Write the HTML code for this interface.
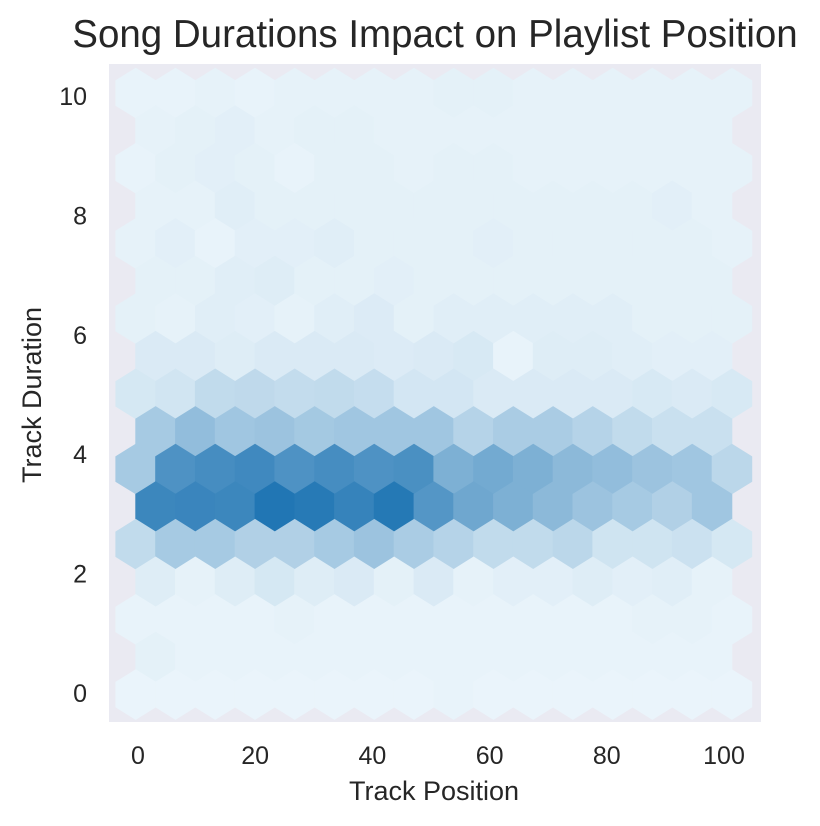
<!DOCTYPE html>
<html><head><meta charset="utf-8"><style>
html,body{margin:0;padding:0;background:#fff;}
svg{display:block;font-family:"Liberation Sans",sans-serif;}
</style></head><body>
<svg id="chart" width="820" height="826" viewBox="0 0 820 826">
<text x="435" y="47" font-size="38.5" text-anchor="middle" fill="#262626">Song Durations Impact on Playlist Position</text>
<rect x="109" y="64" width="652" height="658" fill="#eaeaf2"/>
<g id="hexes"></g>
<g id="xticks"></g>
<g id="yticks"></g>
<text x="434" y="800" font-size="27" text-anchor="middle" fill="#262626">Track Position</text>
<text x="0" y="0" font-size="27" text-anchor="middle" fill="#262626" transform="translate(41,395) rotate(-90)">Track Duration</text>
</svg>
<script>
const xTicks=[0,20,40,60,80,100];
const yTicks=[0,2,4,6,8,10];
const colStart=-0.39, colStep=6.783;
const rowStart=10.05, rowStep=0.6298;
const r0=[.03,.03,.04,.03,.04,.04,.04,.04,.05,.05,.04,.04,.04,.04,.04,.04];
const r1=[.04,.05,.06,.04,.05,.05,.04,.04,.04,.04,.04,.04,.04,.04,.04];
const r2=[.03,.05,.06,.05,.03,.05,.05,.04,.05,.05,.04,.04,.04,.04,.04,.04];
const r3=[.04,.04,.07,.05,.05,.05,.05,.05,.05,.05,.05,.05,.05,.06,.04];
const r4=[.04,.06,.03,.06,.06,.07,.05,.05,.05,.06,.05,.05,.05,.05,.05,.04];
const r5=[.05,.05,.07,.08,.05,.05,.06,.05,.05,.05,.05,.05,.05,.05,.05];
const r6=[.05,.04,.07,.06,.04,.07,.09,.05,.07,.07,.07,.07,.07,.05,.05,.05];
const r7=[.1,.1,.08,.1,.1,.1,.09,.1,.11,.03,.08,.08,.07,.06,.06];
const r8=[.12,.14,.22,.23,.21,.22,.2,.13,.13,.1,.1,.1,.1,.11,.1,.11];
const r9=[.35,.45,.38,.4,.36,.38,.38,.38,.28,.33,.33,.28,.22,.18,.18];
const r10=[.35,.78,.82,.85,.78,.82,.78,.8,.55,.6,.55,.48,.45,.4,.38,.25];
const r11=[.87,.88,.87,1,.97,.9,.98,.75,.62,.55,.48,.4,.35,.3,.38];
const r12=[.22,.35,.35,.3,.3,.35,.4,.33,.28,.22,.22,.25,.15,.15,.17,.12];
const r13=[.08,.04,.08,.12,.08,.1,.05,.1,.04,.06,.06,.08,.06,.07,.04];
const r14=[.03,.03,.03,.03,.04,.03,.03,.03,.03,.03,.03,.03,.03,.04,.04,.03];
const r15=[.05,.03,.03,.03,.03,.03,.03,.03,.03,.03,.03,.03,.03,.03,.03];
const r16=[.02,.02,.02,.02,.02,.02,.02,.02,.03,.02,.02,.02,.02,.02,.02,.02];
const rows=[r0,r1,r2,r3,r4,r5,r6,r7,r8,r9,r10,r11,r12,r13,r14,r15,r16];

const NS="http://www.w3.org/2000/svg";
function xScale(v){return 138+5.86*v;}
function yScale(v){return 693-59.7*v;}
function color(t){
  const a=[238,247,252], b=[33,118,180];
  const c=a.map((v,i)=>Math.round(v+(b[i]-v)*t));
  return "rgb("+c.join(",")+")";
}
const hg=document.getElementById("hexes");
rows.forEach((vals,r)=>{
  const yv=rowStart-r*rowStep;
  const off=(r%2===1)?colStep/2:0;
  vals.forEach((v,k)=>{
    const cx=xScale(colStart+off+k*colStep), cy=yScale(yv);
    const hw=xScale(colStep/2)-xScale(0)+0.4, hh=25.3;
    const pts=[[cx,cy-hh],[cx+hw,cy-hh/2],[cx+hw,cy+hh/2],[cx,cy+hh],[cx-hw,cy+hh/2],[cx-hw,cy-hh/2]];
    const p=document.createElementNS(NS,"polygon");
    p.setAttribute("points",pts.map(q=>q[0].toFixed(1)+","+q[1].toFixed(1)).join(" "));
    p.setAttribute("fill",color(v));
    
    
    hg.appendChild(p);
  });
});
const xg=document.getElementById("xticks");
xTicks.forEach(t=>{
  const e=document.createElementNS(NS,"text");
  e.setAttribute("x",xScale(t));e.setAttribute("y",764);
  e.setAttribute("font-size","25");e.setAttribute("text-anchor","middle");e.setAttribute("fill","#262626");
  e.textContent=t;
  
  
  xg.appendChild(e);
});
const yg=document.getElementById("yticks");
yTicks.forEach(t=>{
  const e=document.createElementNS(NS,"text");
  e.setAttribute("x",87);e.setAttribute("y",yScale(t)+9);
  e.setAttribute("font-size","25");e.setAttribute("text-anchor","end");e.setAttribute("fill","#262626");
  e.textContent=t;
  
  
  yg.appendChild(e);
});
</script>
</body></html>
